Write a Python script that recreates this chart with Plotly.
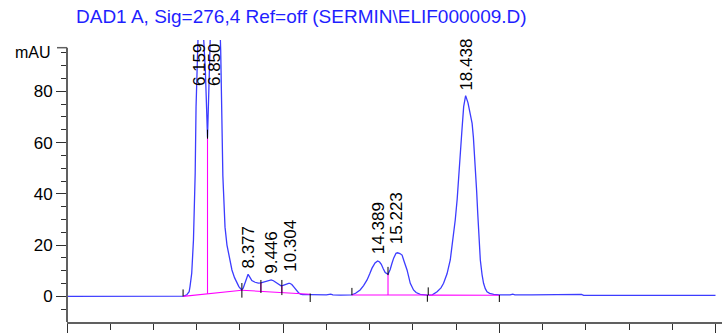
import numpy as np
import plotly.graph_objects as go

# ---------------- data ----------------
title_text = "DAD1 A, Sig=276,4 Ref=off (SERMIN\\ELIF000009.D)"

time_min = [0.0, 5.0, 5.40, 5.54, 5.65, 5.69, 5.77, 5.85, 5.93, 5.97, 6.00, 6.05, 6.10, 6.159,
            6.22, 6.30, 6.36, 6.40, 6.44, 6.50, 6.56, 6.60, 6.65, 6.75, 6.85, 6.95, 7.05, 7.08,
            7.11, 7.14, 7.17, 7.21, 7.24, 7.31, 7.40, 7.47, 7.55, 7.63, 7.75, 7.86, 7.95, 8.04,
            8.09, 8.15, 8.22, 8.30, 8.377, 8.45, 8.55, 8.70, 8.85, 8.97, 9.10, 9.25, 9.38, 9.446,
            9.55, 9.68, 9.80, 9.90, 10.00, 10.15, 10.25, 10.304, 10.40, 10.50, 10.60, 10.71, 10.80,
            10.90, 11.25, 11.50, 12.00, 12.20, 12.30, 12.64, 13.00, 13.18, 13.35, 13.56, 13.72,
            13.88, 14.00, 14.11, 14.25, 14.37, 14.46, 14.54, 14.63, 14.72, 14.85, 14.95, 15.03,
            15.11, 15.22, 15.29, 15.40, 15.50, 15.60, 15.73, 15.88, 16.03, 16.15, 16.34, 16.67,
            16.90, 17.12, 17.30, 17.42, 17.58, 17.73, 17.85, 17.96, 18.05, 18.12, 18.20, 18.27,
            18.35, 18.44, 18.55, 18.66, 18.74, 18.80, 18.85, 18.89, 18.95, 19.00, 19.06, 19.12,
            19.20, 19.27, 19.35, 19.43, 19.55, 19.74, 20.00, 20.50, 20.62, 20.72, 21.50, 23.50,
            23.80, 23.90, 30.00]
absorbance_mau = [0.0, 0.0, 0.1, 0.6, 1.8, 3.8, 9.0, 22.0, 48.0, 74.0, 90.0, 104.0, 112.0, 115.0,
                  112.0, 104.0, 96.0, 88.0, 78.0, 62.0, 80.0, 97.0, 108.0, 118.0, 121.0, 118.0, 108.0, 104.0,
                  96.0, 78.0, 58.0, 47.0, 41.0, 27.0, 20.0, 16.8, 13.0, 10.3, 7.3, 5.1, 3.8, 2.9,
                  2.6, 3.2, 4.8, 7.2, 8.6, 7.6, 6.2, 5.5, 5.2, 5.3, 5.6, 5.9, 6.3, 6.4,
                  6.1, 5.3, 4.4, 4.1, 4.3, 4.9, 5.1, 5.1, 4.6, 3.6, 2.4, 1.4, 0.9,
                  0.7, 0.7, 0.7, 0.6, 0.9, 0.6, 0.5, 0.5, 0.6, 1.2, 2.5, 4.2,
                  6.4, 8.7, 11.0, 13.0, 13.8, 13.4, 12.5, 10.8, 9.3, 8.6, 10.5, 12.8,
                  14.9, 16.8, 17.0, 16.7, 16.1, 13.5, 10.3, 5.1, 2.5, 1.5, 0.8, 0.5,
                  0.6, 1.8, 3.3, 5.1, 8.8, 14.2, 21.5, 29.8, 38.0, 45.4, 56.0, 64.9,
                  74.0, 78.3, 75.5, 71.5, 67.5, 62.0, 56.0, 50.0, 41.0, 32.4, 22.5, 14.2,
                  8.5, 5.1, 3.0, 1.8, 1.2, 0.8, 0.6, 0.6, 0.9, 0.6, 0.6, 0.6,
                  0.8, 0.4, 0.35]

# peaks: retention time labels
peak_rt = [6.159, 6.850, 8.377, 9.446, 10.304, 14.389, 15.223, 18.438]
peak_labels = ["6.159", "6.850", "8.377", "9.446", "10.304", "14.389", "15.223", "18.438"]

# integration baselines: (t start, value, t end, value)
base_t0 = [5.37, 8.09, 13.18, 16.71]
base_v0 = [0.0, 2.4, 0.55, 0.5]
base_t1 = [8.09, 11.25, 16.67, 20.00]
base_v1 = [2.4, 0.8, 0.55, 0.45]

# drop lines at valleys
drop_t = [6.50, 8.97, 9.94, 14.85]

# peak start / end / valley event ticks (time, low, high) in mAU
event_t = [5.37, 6.50, 8.09, 8.97, 9.94, 11.25, 13.18, 14.85, 16.67, 16.71, 20.00]
event_lo = [0.0, 61.5, -0.5, 1.3, 0.5, -2.2, 0.5, 8.3, -2.1, 0.5, -2.2]
event_hi = [2.7, 65.0, 5.2, 6.4, 6.4, 1.1, 3.3, 11.5, 0.5, 3.5, 0.5]

y_major = [0, 20, 40, 60, 80]
y_minor = [-5, 5, 10, 15, 25, 30, 35, 45, 50, 55, 65, 70, 75, 85, 90, 95]

# ---------------- styles / layout ----------------
W, H = 722, 333
ML, MR, MT, MB = 67, 0, 40, 11
X_RANGE = [0, 30.3]
Y_RANGE = [-10, 100]
label_bottom = [81.5, 81.5, 10.3, 8.3, 9.1, 16.1, 20.0, 79.7]

FONT = "Arial, Liberation Sans, sans-serif"
BLUE = "#3c3cff"
MAGENTA = "#ff00ff"
AXIS = "#606060"

fig = go.Figure()

t = np.array(time_min)
a = np.array(absorbance_mau)

# signal
fig.add_trace(go.Scatter(x=t, y=a, mode="lines", line=dict(color=BLUE, width=1.3),
                         hoverinfo="skip"))

# baselines
bx, by = [], []
for t0, v0, t1, v1 in zip(base_t0, base_v0, base_t1, base_v1):
    bx += [t0, t1, None]
    by += [v0, v1, None]
fig.add_trace(go.Scatter(x=bx, y=by, mode="lines", line=dict(color=MAGENTA, width=1.1),
                         hoverinfo="skip"))


def base_at(tt):
    for t0, v0, t1, v1 in zip(base_t0, base_v0, base_t1, base_v1):
        if t0 <= tt <= t1:
            return v0 + (v1 - v0) * (tt - t0) / (t1 - t0)
    return 0.0


dx, dy = [], []
for td in drop_t:
    dx += [td, td, None]
    dy += [base_at(td), float(np.interp(td, t, a)), None]
fig.add_trace(go.Scatter(x=dx, y=dy, mode="lines", line=dict(color=MAGENTA, width=1.1),
                         hoverinfo="skip"))

# event ticks
ex, ey = [], []
for te, lo, hi in zip(event_t, event_lo, event_hi):
    ex += [te, te, None]
    ey += [lo, hi, None]
fig.add_trace(go.Scatter(x=ex, y=ey, mode="lines", line=dict(color="black", width=1),
                         hoverinfo="skip"))

# peak labels
for rt, lab, yb in zip(peak_rt, peak_labels, label_bottom):
    fig.add_annotation(x=rt, y=yb, xref="x", yref="y", text=lab, textangle=-90,
                       showarrow=False, xanchor="center", yanchor="bottom",
                       font=dict(family=FONT, size=17, color="black"), borderpad=0)

# title
fig.add_annotation(xref="paper", yref="paper", x=(75 - ML) / (W - ML - MR),
                   y=1 + (MT - 5) / (H - MT - MB), xanchor="left", yanchor="top",
                   text=title_text, showarrow=False, borderpad=0,
                   font=dict(family=FONT, size=19, color="#1f1fff"))

# mAU label
fig.add_annotation(xref="paper", yref="y", x=0, y=95, xshift=-15, xanchor="right",
                   yanchor="middle", text="mAU", showarrow=False, borderpad=0,
                   font=dict(family=FONT, size=16, color="black"))

# y-axis line (stops below top of plot) and top stub
fig.add_shape(type="line", xref="paper", yref="y", x0=0, x1=0, y0=-10, y1=97,
              line=dict(color=AXIS, width=2))
fig.add_shape(type="line", xref="paper", yref="y", x0=-10 / (W - ML - MR), x1=0, y0=97, y1=97,
              line=dict(color=AXIS, width=1.5))

fig.update_layout(
    width=W, height=H, margin=dict(l=ML, r=MR, t=MT, b=MB),
    paper_bgcolor="white", plot_bgcolor="white", showlegend=False,
    xaxis=dict(range=X_RANGE, showgrid=False, zeroline=False, showline=True,
               linecolor=AXIS, linewidth=2, ticks="outside", tickmode="linear",
               tick0=0, dtick=10, ticklen=10, tickwidth=1.3, tickcolor="#303030",
               showticklabels=False,
               minor=dict(ticks="outside", tickmode="linear", tick0=0, dtick=2,
                          ticklen=6, tickwidth=1.2, tickcolor="#303030")),
    yaxis=dict(range=Y_RANGE, showgrid=False, zeroline=False, showline=False,
               ticks="outside", tickmode="array", tickvals=y_major,
               ticklen=10, tickwidth=1.3, tickcolor="#303030",
               tickfont=dict(family=FONT, size=17, color="black"),
               minor=dict(ticks="outside", tickmode="array", tickvals=y_minor,
                          ticklen=5, tickwidth=1.2, tickcolor="#303030")),
)

fig.write_html("out.html")
